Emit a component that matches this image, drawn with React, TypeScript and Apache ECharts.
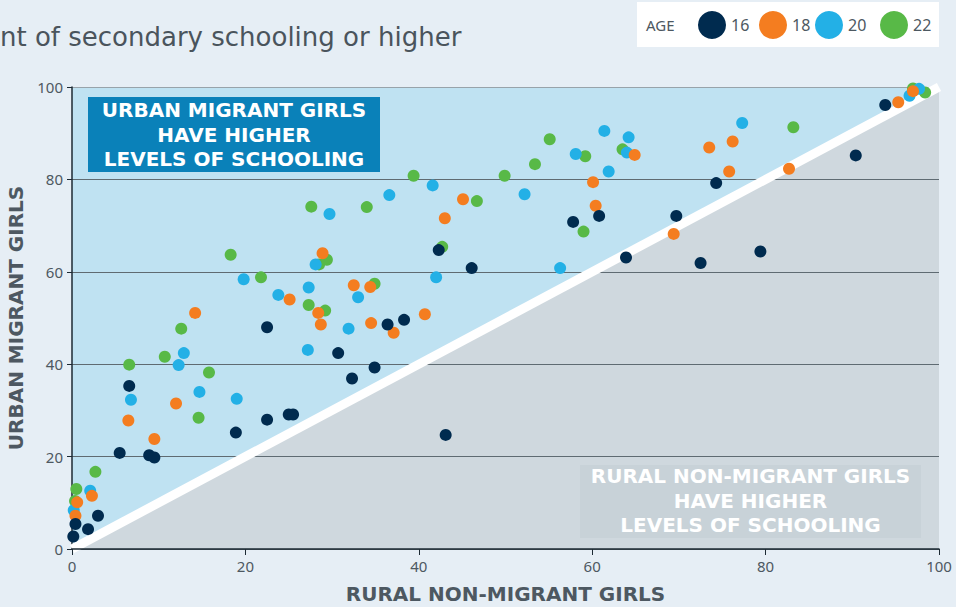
import React, { useEffect, useRef } from "react";
import * as echarts from "echarts";

const ageLabels = ["16", "18", "20", "22"];
const ageColors = ["#002b4f", "#f47d20", "#23b0e6", "#58b947"];

const age16: [number, number][] = [
  [0.15, 2.7], [0.4, 5.4], [1.85, 4.3], [3.0, 7.2], [5.5, 20.8], [8.9, 20.3], [9.5, 19.8],
  [6.6, 35.3], [18.9, 25.2], [22.5, 28.0], [25.0, 29.1], [25.5, 29.1], [22.5, 48.0],
  [30.7, 42.4], [32.3, 36.9], [34.9, 39.3], [36.4, 48.6], [38.3, 49.6], [43.1, 24.7],
  [42.3, 64.7], [46.1, 60.8], [57.8, 70.8], [60.8, 72.1], [63.9, 63.1], [69.7, 72.1],
  [74.3, 79.2], [72.5, 61.9], [79.4, 64.4], [90.4, 85.2], [93.8, 96.1],
];

const age18: [number, number][] = [
  [0.4, 7.2], [0.6, 10.1], [2.3, 11.5], [6.5, 27.8], [9.5, 23.8], [12.0, 31.5], [14.2, 51.1],
  [25.1, 54.0], [28.4, 51.1], [28.7, 48.6], [28.9, 64.0], [32.5, 57.1], [34.4, 56.7],
  [34.5, 48.9], [37.1, 46.8], [40.7, 50.8], [43.0, 71.6], [45.1, 75.7], [60.1, 79.4],
  [60.4, 74.3], [64.9, 85.3], [73.5, 86.9], [76.2, 88.2], [75.8, 81.7], [82.7, 82.3],
  [69.4, 68.2], [95.3, 96.7], [97.0, 99.1],
];

const age20: [number, number][] = [
  [0.2, 8.4], [2.1, 12.6], [6.8, 32.3], [12.3, 39.8], [12.9, 42.4], [14.7, 34.0], [19.0, 32.5],
  [27.2, 43.1], [31.9, 47.7], [19.8, 58.4], [23.8, 55.0], [27.3, 56.6], [28.1, 61.6],
  [29.7, 72.5], [33.0, 54.5], [36.6, 76.6], [41.6, 78.7], [42.0, 58.8], [52.2, 76.8],
  [56.3, 60.8], [58.1, 85.5], [61.4, 90.5], [61.9, 81.7], [64.0, 85.8], [64.2, 89.1],
  [77.3, 92.2], [96.6, 98.1], [97.7, 99.6],
];

const age22: [number, number][] = [
  [0.5, 13.0], [0.35, 10.4], [2.7, 16.7], [6.6, 39.9], [10.7, 41.6], [12.6, 47.7], [15.8, 38.2],
  [14.6, 28.4], [27.3, 52.8], [29.2, 51.6], [18.3, 63.7], [21.8, 58.8], [27.6, 74.1],
  [28.5, 61.6], [29.4, 62.6], [34.0, 74.0], [34.9, 57.4], [39.4, 80.8], [42.7, 65.4],
  [46.7, 75.3], [49.9, 80.8], [53.4, 83.3], [55.1, 88.7], [59.2, 85.0], [59.0, 68.7],
  [63.5, 86.5], [83.2, 91.3], [97.0, 99.7], [98.4, 98.8],
];

const parityLine: [number, number][] = [[0, 0], [100, 100]];

const xName = "RURAL NON-MIGRANT GIRLS";
const yName = "URBAN MIGRANT GIRLS";
const subtitle = "nt of secondary schooling or higher";
const upperNote = "URBAN MIGRANT GIRLS\nHAVE HIGHER\nLEVELS OF SCHOOLING";
const lowerNote = "RURAL NON-MIGRANT GIRLS\nHAVE HIGHER\nLEVELS OF SCHOOLING";

export default function App() {
  const ref = useRef<HTMLDivElement>(null);
  useEffect(() => {
    document.body.style.margin = "0";
    const chart = echarts.init(ref.current!, null, { renderer: "svg" });
    const font = "'Noto Sans', 'Open Sans', sans-serif";
    const wide = "'DejaVu Sans', 'Noto Sans', sans-serif";
    const textCol = "#4d5861";
    const seriesData = [age16, age18, age20, age22];
    const scatterSeries = [3, 2, 1, 0].map((i) => ({
      type: "scatter",
      name: ageLabels[i],
      data: seriesData[i],
      symbol: "circle",
      symbolSize: 12,
      itemStyle: { color: ageColors[i], opacity: 1 },
      z: 6,
      silent: true,
    }));
    const legendItems: any[] = [];
    const legendX = [712, 773, 829, 894];
    ageLabels.forEach((lab, i) => {
      legendItems.push({
        type: "circle",
        shape: { cx: legendX[i], cy: 25, r: 14 },
        style: { fill: ageColors[i] },
      });
      legendItems.push({
        type: "text",
        x: legendX[i] + 19,
        y: 25,
        style: { text: lab, fill: textCol, font: `16px ${font}`, verticalAlign: "middle", align: "left" },
      });
    });
    const option: any = {
      animation: false,
      backgroundColor: "#e6eef5",
      grid: {
        left: 72, right: 17, top: 87, bottom: 58,
        outerBoundsMode: "none", containLabel: false,
        show: true, backgroundColor: "#bfe2f2", borderWidth: 0,
      },
      xAxis: {
        type: "value", min: 0, max: 100, interval: 20,
        name: xName, nameLocation: "middle", nameGap: 35,
        nameTextStyle: { color: textCol, fontSize: 20, fontWeight: "bold", fontFamily: wide },
        axisLine: { show: true, lineStyle: { color: "#1d2a33", width: 1.5 } },
        axisTick: { show: true, length: 6, lineStyle: { color: "#1d2a33" } },
        axisLabel: { color: textCol, fontSize: 15, margin: 9, fontFamily: font },
        splitLine: { show: false },
        z: 5,
      },
      yAxis: {
        type: "value", min: 0, max: 100, interval: 20,
        name: yName, nameLocation: "middle", nameGap: 44, nameRotate: 90,
        nameTextStyle: { color: textCol, fontSize: 20, fontWeight: "bold", fontFamily: wide },
        axisLine: { show: true, lineStyle: { color: "#1d2a33", width: 1.5 } },
        axisTick: { show: true, length: 5, lineStyle: { color: "#1d2a33" } },
        axisLabel: { color: textCol, fontSize: 15, margin: 9, fontFamily: font },
        splitLine: {
          show: true,
          lineStyle: { color: ["#5f6b72", "#5f6b72", "#5f6b72", "#5f6b72", "#5f6b72", "#98a3aa"], width: 1.2 },
        },
        z: 3,
      },
      series: [
        {
          type: "line", data: parityLine, symbol: "none", silent: true,
          lineStyle: { width: 0 }, areaStyle: { color: "#cfd8de", opacity: 1 }, z: 1,
        },
        {
          type: "line", data: parityLine, symbol: "none", silent: true,
          lineStyle: { width: 9, color: "#ffffff" }, z: 4,
        },
        ...scatterSeries,
      ],
      graphic: [
        {
          type: "text", x: 0, y: 37,
          style: { text: subtitle, fill: "#4a545c", font: `26px ${wide}`, align: "left", verticalAlign: "middle" },
        },
        { type: "rect", shape: { x: 637, y: 2, width: 302, height: 45 }, style: { fill: "#ffffff" } },
        {
          type: "text", x: 646, y: 25,
          style: { text: "AGE", fill: textCol, font: `15px ${font}`, verticalAlign: "middle", align: "left" },
        },
        ...legendItems,
        { type: "rect", shape: { x: 88, y: 97, width: 292, height: 75 }, style: { fill: "#0a81b9" }, z: 10 },
        {
          type: "text", x: 234, y: 134.5, z: 11,
          style: {
            text: upperNote, fill: "#ffffff", font: `bold 20px ${wide}`, lineHeight: 24.5,
            align: "center", verticalAlign: "middle",
          },
        },
        { type: "rect", shape: { x: 580, y: 465, width: 341, height: 73 }, style: { fill: "#c8d2d8" }, z: 10 },
        {
          type: "text", x: 750.5, y: 500.5, z: 11,
          style: {
            text: lowerNote, fill: "#ffffff", font: `bold 20px ${wide}`, lineHeight: 24.5,
            align: "center", verticalAlign: "middle",
          },
        },
      ],
    };
    chart.setOption(option);
    return () => chart.dispose();
  }, []);
  return (
    <div
      ref={ref}
      style={{ position: "fixed", left: 0, top: 0, width: 956, height: 607, background: "#e6eef5" }}
    />
  );
}
